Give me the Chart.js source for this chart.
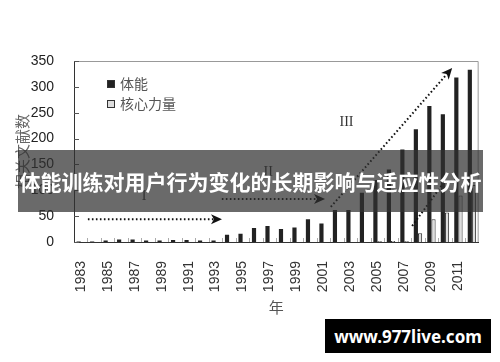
<!DOCTYPE html>
<html>
<head>
<meta charset="utf-8">
<script src="https://cdn.jsdelivr.net/npm/chart.js@4"></script>
<style>
  body { margin: 0; background: #fff; }
  #wrap { position: relative; width: 500px; height: 362px; }
  #banner {
    position: absolute; left: 18px; top: 150px; width: 465px; height: 62px;
    background: rgba(48, 48, 48, 0.72); color: #fff;
    font: bold 21px "Noto Sans CJK SC", sans-serif;
    display: flex; align-items: center; justify-content: center; white-space: nowrap;
  }
  #mark {
    position: absolute; left: 325px; top: 319px; width: 166px; height: 34px;
    background: #000; color: #fff;
    font: bold 17px "Noto Sans", sans-serif;
    display: flex; align-items: center; justify-content: center;
  }
</style>
</head>
<body>
<div id="wrap">
  <canvas id="chart"></canvas>
  <div id="banner">体能训练对用户行为变化的长期影响与适应性分析</div>
  <div id="mark">www.977live.com</div>
</div>
<script>
// Years on the x axis
const years = ["1983","1984","1985","1986","1987","1988","1989","1990","1991","1992",
  "1993","1994","1995","1996","1997","1998","1999","2000","2001","2002",
  "2003","2004","2005","2006","2007","2008","2009","2010","2011","2012"];

// 体能 paper counts
const tineng = [1, 1, 3, 5, 5, 3, 3, 4, 4, 3,
  3, 14, 16, 27, 31, 25, 28, 44, 36, 62,
  62, 95, 120, 140, 179, 218, 263, 247, 318, 333];

// 核心力量 paper counts
const hexin = [0, 0, 0, 0, 0, 0, 0, 0, 0, 0,
  0, 0, 0, 0, 0, 0, 0, 0, 0, 0,
  0, 0, 2, 2, 2, 17, 44, 57, 90, 110];

const yTicks = [0, 50, 100, 150, 200, 250, 300, 350];

// stage arrows and labels, in data space (category index, value)
const stageArrows = [
  { from: [0.53, 44], to: [10.1, 44] },
  { from: [10.46, 83], to: [17.74, 83] },
  { from: [18.54, 68], to: [27.29, 329] },
  { from: [24.57, 31], to: [26.78, 110], noHead: true }
];
const stageLabels = [
  { text: "I", at: [4.7, 89] },
  { text: "II", at: [13.9, 135] },
  { text: "III", at: [19.7, 232] }
];

const decor = {
  id: "decor",
  afterDatasetsDraw(chart) {
    const ctx = chart.ctx;
    const { left, right, top, bottom } = chart.chartArea;
    const x = chart.scales.x, y = chart.scales.y;
    ctx.save();

    // frame top/right
    ctx.strokeStyle = "#999";
    ctx.lineWidth = 1;
    ctx.beginPath();
    ctx.moveTo(left, top + 0.5);
    ctx.lineTo(right - 0.5, top + 0.5);
    ctx.lineTo(right - 0.5, bottom);
    ctx.stroke();

    // inner ticks
    ctx.strokeStyle = "#555";
    yTicks.forEach(v => {
      const py = Math.round(y.getPixelForValue(v)) + 0.5;
      ctx.beginPath(); ctx.moveTo(left, py); ctx.lineTo(left + 5, py); ctx.stroke();
    });
    ctx.strokeStyle = "#aaa";
    for (let i = 1; i < years.length; i++) {
      const px = Math.round(x.getPixelForValue(i - 0.5)) + 0.5;
      ctx.beginPath(); ctx.moveTo(px, bottom); ctx.lineTo(px, bottom - 4); ctx.stroke();
    }

    // legend
    const items = chart.data.datasets;
    ctx.font = '14px "Noto Sans CJK SC", serif';
    ctx.textBaseline = "middle";
    items.forEach((ds, k) => {
      const ly = top + 23 + k * 20;
      ctx.fillStyle = ds.backgroundColor;
      ctx.fillRect(left + 33, ly - 4, 8, 8);
      ctx.strokeStyle = "#333";
      ctx.strokeRect(left + 33.5, ly - 3.5, 7, 7);
      ctx.fillStyle = "#555";
      ctx.fillText(ds.label, left + 46, ly);
    });

    // dotted arrows
    ctx.strokeStyle = "#111";
    ctx.fillStyle = "#111";
    stageArrows.forEach(a => {
      const x0 = x.getPixelForValue(a.from[0]), y0 = y.getPixelForValue(a.from[1]);
      const x1 = x.getPixelForValue(a.to[0]), y1 = y.getPixelForValue(a.to[1]);
      ctx.lineWidth = 2;
      ctx.setLineDash([1.6, 2.4]);
      ctx.beginPath(); ctx.moveTo(x0, y0); ctx.lineTo(x1, y1); ctx.stroke();
      ctx.setLineDash([]);
      if (!a.noHead) {
        const ang = Math.atan2(y1 - y0, x1 - x0);
        const c = Math.cos(ang), s = Math.sin(ang);
        ctx.beginPath();
        ctx.moveTo(x1 + 5 * c, y1 + 5 * s);
        ctx.lineTo(x1 - 6 * c + 5 * s, y1 - 6 * s - 5 * c);
        ctx.lineTo(x1 - 3 * c, y1 - 3 * s);
        ctx.lineTo(x1 - 6 * c - 5 * s, y1 - 6 * s + 5 * c);
        ctx.closePath();
        ctx.fill();
      }
    });

    ctx.font = '14px "Liberation Serif", serif';
    ctx.textAlign = "center";
    ctx.fillStyle = "#333";
    stageLabels.forEach(l => {
      ctx.fillText(l.text, x.getPixelForValue(l.at[0]), y.getPixelForValue(l.at[1]));
    });
    ctx.restore();
  }
};

new Chart(document.getElementById("chart"), {
  type: "bar",
  data: {
    labels: years,
    datasets: [
      { label: "体能", data: tineng, backgroundColor: "#222", borderWidth: 0 },
      { label: "核心力量", data: hexin, backgroundColor: "#ddd", borderColor: "#333", borderWidth: 1 }
    ]
  },
  options: {
    responsive: true,
    maintainAspectRatio: false,
    animation: false,
    layout: { padding: { top: 61, right: 17, left: 0, bottom: 42 } },
    datasets: { bar: { categoryPercentage: 0.62, barPercentage: 1 } },
    plugins: { legend: { display: false }, tooltip: { enabled: false } },
    scales: {
      x: {
        grid: { display: false },
        border: { color: "#333" },
        ticks: {
          autoSkip: false, maxRotation: 90, minRotation: 90, padding: 11,
          color: "#333", font: { family: "Liberation Sans", size: 14 },
          callback: (v, i) => (i % 2 === 0 ? years[i] : "")
        },
        title: { display: true, text: "年", color: "#555", padding: { top: 4, bottom: 4 },
          font: { family: "Noto Sans CJK SC", size: 15 } },
        afterFit: s => { s.height = 78; }
      },
      y: {
        min: 0, max: 350,
        grid: { display: false },
        border: { color: "#333" },
        ticks: { stepSize: 50, padding: 12, color: "#222", font: { family: "Liberation Sans", size: 14 } },
        title: { display: true, text: "相关文献数", color: "#666", padding: { top: 13, bottom: 0 },
          font: { family: "Noto Sans CJK SC", size: 15 } },
        afterFit: s => { s.width = 74; }
      }
    }
  },
  plugins: [decor]
});
</script>
</body>
</html>
